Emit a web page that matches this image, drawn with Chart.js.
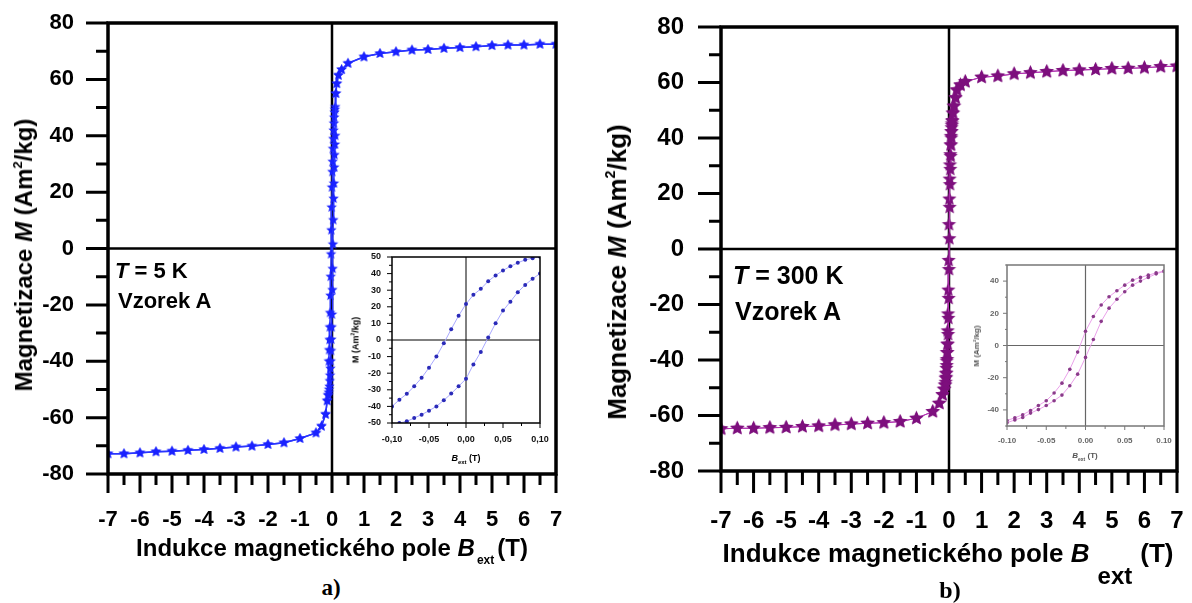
<!DOCTYPE html>
<html><head><meta charset="utf-8">
<script src="https://cdn.jsdelivr.net/npm/chart.js@4.4.0/dist/chart.umd.min.js"></script>
<style>
html,body{margin:0;padding:0;background:#fff;}
#wrap{position:relative;width:1192px;height:603px;overflow:hidden;background:#fff;}
canvas{position:absolute;}
.t{position:absolute;white-space:nowrap;font-family:'Liberation Sans',Arial,Helvetica,sans-serif;font-weight:bold;color:#000;line-height:1;transform:translate(-50%,-50%);}
.l{transform:translate(0,-50%);}
.r{transform:translate(-50%,-50%) rotate(-90deg);}
sup{font-size:0.55em;line-height:0;vertical-align:0.75em;}
.serif{font-family:'Liberation Serif','Times New Roman',serif;}
</style></head><body><div id="wrap">
<canvas id="mainA" width="590" height="540" style="left:0;top:0"></canvas>
<canvas id="mainB" width="592" height="540" style="left:600px;top:0"></canvas>
<canvas id="insetA" width="225" height="230" style="left:330px;top:245px"></canvas>
<canvas id="insetB" width="215" height="215" style="left:960px;top:255px"></canvas>

<div class="t r" style="left:24px;top:255px;font-size:24px">Magnetizace <i>M</i> (Am<sup>2</sup>/kg)</div>
<div class="t" style="left:332px;top:548px;font-size:24px">Indukce magnetického pole <i>B</i><span style="font-size:12px;position:relative;top:8px;margin-left:2px;margin-right:3px">ext</span>(T)</div>
<div class="t serif" style="left:331px;top:587px;font-size:23px">a)</div>
<div class="t l" style="left:115px;top:271px;font-size:22px"><i>T</i> = 5 K</div>
<div class="t l" style="left:118px;top:301px;font-size:22px">Vzorek A</div>

<div class="t r" style="left:617px;top:272px;font-size:26px">Magnetizace <i>M</i> (Am<sup>2</sup>/kg)</div>
<div class="t" style="left:948px;top:553px;font-size:26px">Indukce magnetického pole <i>B</i><span style="font-size:24px;position:relative;top:22px;margin-left:8px;margin-right:8px">ext</span>(T)</div>
<div class="t serif" style="left:950px;top:590px;font-size:24px">b)</div>
<div class="t l" style="left:733px;top:275px;font-size:25px"><i>T</i> = 300 K</div>
<div class="t l" style="left:735px;top:311px;font-size:25px">Vzorek A</div>

<div class="t r" style="left:356px;top:340px;font-size:9px">M (Am<sup>2</sup>/kg)</div>
<div class="t" style="left:466px;top:458px;font-size:9px"><i>B</i><span style="font-size:6px;position:relative;top:3px">ext</span> (T)</div>
<div class="t r" style="left:977px;top:346px;font-size:8px;color:#555">M (Am<sup>2</sup>/kg)</div>
<div class="t" style="left:1085px;top:456px;font-size:8px;color:#555"><i>B</i><span style="font-size:5px;position:relative;top:3px">ext</span> (T)</div>
</div>
<script>
// ---------------- DATA ----------------
// Panel a (T = 5 K), main plot
const mainA_neg_x = [-7, -6.5, -6, -5.5, -5, -4.5, -4, -3.5, -3, -2.5, -2, -1.5, -1, -0.5, -0.33, -0.2, -0.15, -0.12];
const mainA_neg_M = [-72.8, -72.8, -72.5, -72.1, -71.9, -71.6, -71.3, -70.9, -70.4, -70.1, -69.5, -68.9, -67.4, -65.4, -63, -58.8, -54, -52];
const mainA_pos_x = [0.12, 0.15, 0.2, 0.3, 0.5, 1, 1.5, 2, 2.5, 3, 3.5, 4, 4.5, 5, 5.5, 6, 6.5, 7];
const mainA_pos_M = [55, 58.5, 61.5, 63.5, 65.7, 68, 69.2, 69.8, 70.4, 70.6, 71, 71.3, 71.6, 72, 72.2, 72.2, 72.5, 72.5];
// Panel a inset (low-field hysteresis loop)
const insetA_x = [-0.10, -0.09, -0.08, -0.07, -0.06, -0.05, -0.04, -0.03, -0.02, -0.01, 0, 0.01, 0.02, 0.03, 0.04, 0.05, 0.06, 0.07, 0.08, 0.09, 0.10];
const insetA_desc_M = [-40, -36, -32.4, -27.9, -22.8, -16.7, -10, -2, 6.5, 14.6, 21.7, 27.2, 30.8, 35.4, 38.9, 41.9, 44.4, 46.5, 48.3, 49.3, 50.2];
const insetA_asc_M = [-51, -50, -49, -47, -45, -42.6, -40, -36.3, -32.3, -27.9, -23.4, -14.7, -7.2, 1.5, 10.1, 17.7, 23.1, 28.8, 33.2, 36.9, 40];

// Panel b (T = 300 K), main plot
const mainB_neg_x = [-7, -6.5, -6, -5.5, -5, -4.5, -4, -3.5, -3, -2.5, -2, -1.5, -1, -0.5, -0.3, -0.2, -0.15, -0.12];
const mainB_neg_M = [-64.8, -64.6, -64.6, -64.4, -64.3, -64, -63.8, -63.4, -63.1, -62.8, -62.6, -62.2, -61, -58.6, -55.6, -52.5, -50.5, -49];
const mainB_pos_x = [0.12, 0.15, 0.2, 0.24, 0.35, 0.5, 1, 1.5, 2, 2.5, 3, 3.5, 4, 4.5, 5, 5.5, 6, 6.5, 7];
const mainB_pos_M = [49, 51.5, 54.5, 57.3, 59.1, 60.3, 61.9, 62.3, 63.1, 63.5, 63.9, 64.3, 64.5, 64.7, 65, 65.1, 65.3, 65.7, 65.9];
// Panel b inset
const insetB_x = [-0.10, -0.09, -0.08, -0.07, -0.06, -0.05, -0.04, -0.03, -0.02, -0.01, 0, 0.01, 0.02, 0.03, 0.04, 0.05, 0.06, 0.07, 0.08, 0.09, 0.10];
const insetB_desc_M = [-46.6, -44.9, -43, -40.4, -37.3, -34.3, -29.5, -23.4, -14.8, -4.1, 8.8, 18, 25.2, 30.3, 34, 37.5, 40.6, 42.3, 43.7, 45.1, 46.3];
const insetB_asc_M = [-48, -46.2, -44.7, -42, -39.8, -37.3, -34.3, -30.8, -25, -17.8, -7.4, 3.7, 15, 23.2, 28.7, 33.4, 37.5, 40, 42.3, 44.5, 46];

// Tick values / labels
const mainX_major = [-7, -6, -5, -4, -3, -2, -1, 0, 1, 2, 3, 4, 5, 6, 7];
const mainX_minor = [-6.5, -5.5, -4.5, -3.5, -2.5, -1.5, -0.5, 0.5, 1.5, 2.5, 3.5, 4.5, 5.5, 6.5];
const mainY_major = [-80, -60, -40, -20, 0, 20, 40, 60, 80];
const mainY_minor = [-70, -50, -30, -10, 10, 30, 50, 70];
const insetX_major = [-0.10, -0.05, 0, 0.05, 0.10];
const insetX_minor = [-0.075, -0.025, 0.025, 0.075];
const insetA_xLabels = ['-0,10', '-0,05', '0,00', '0,05', '0,10'];
const insetB_xLabels = ['-0.10', '-0.05', '0.00', '0.05', '0.10'];
const insetA_yMajor = [-50, -40, -30, -20, -10, 0, 10, 20, 30, 40, 50];
const insetA_yMinor = [-45, -35, -25, -15, -5, 5, 15, 25, 35, 45];
const insetB_yMajor = [-40, -20, 0, 20, 40];
const insetB_yMinor = [-50, -30, -10, 10, 30, 50];

// ---------------- HELPERS ----------------
const FONT = "'Liberation Sans', Arial, Helvetica, sans-serif";
const pts = (xs, ys) => xs.map((x, i) => ({x: x, y: ys[i]}));
const rev = a => a.slice().reverse();

function starImage(r, fill) {
  const s = Math.ceil(r * 2 + 2);
  const c = document.createElement('canvas');
  c.width = s; c.height = s;
  const g = c.getContext('2d');
  g.beginPath();
  for (let i = 0; i < 10; i++) {
    const ang = -Math.PI / 2 + i * Math.PI / 5;
    const rr = (i % 2) ? r * 0.45 : r;
    const px = s / 2 + rr * Math.cos(ang), py = s / 2 + rr * Math.sin(ang);
    if (i) g.lineTo(px, py); else g.moveTo(px, py);
  }
  g.closePath();
  g.fillStyle = fill;
  g.fill();
  return c;
}

const decor = {
  id: 'decor',
  beforeDatasetsDraw(chart, args, o) {
    const {ctx, chartArea: a, scales: {x, y}} = chart;
    ctx.save();
    ctx.strokeStyle = o.zeroColor; ctx.lineWidth = o.zeroWidth;
    const x0 = x.getPixelForValue(0), y0 = y.getPixelForValue(0);
    ctx.beginPath();
    ctx.moveTo(x0, a.top); ctx.lineTo(x0, a.bottom);
    ctx.moveTo(a.left, y0); ctx.lineTo(a.right, y0);
    ctx.stroke();
    ctx.restore();
  },
  afterDatasetsDraw(chart, args, o) {
    const {ctx, chartArea: a, scales: {x, y}} = chart;
    ctx.save();
    ctx.strokeStyle = o.color; ctx.lineWidth = o.tickWidth; ctx.lineCap = 'butt';
    ctx.beginPath();
    o.xMajor.forEach(v => { const p = x.getPixelForValue(v); ctx.moveTo(p, a.bottom); ctx.lineTo(p, a.bottom + o.xMajorLen); });
    o.xMinor.forEach(v => { const p = x.getPixelForValue(v); ctx.moveTo(p, a.bottom); ctx.lineTo(p, a.bottom + o.xMinorLen); });
    o.yMajor.forEach(v => { const p = y.getPixelForValue(v); ctx.moveTo(a.left, p); ctx.lineTo(a.left - o.yMajorLen, p); });
    o.yMinor.forEach(v => { const p = y.getPixelForValue(v); ctx.moveTo(a.left, p); ctx.lineTo(a.left - o.yMinorLen, p); });
    ctx.stroke();
    ctx.lineWidth = o.frameWidth;
    ctx.strokeRect(a.left, a.top, a.right - a.left, a.bottom - a.top);
    ctx.restore();
  }
};

function makeChart(id, cfg) {
  const fontTick = {family: FONT, size: cfg.fontSize, weight: 'bold'};
  return new Chart(document.getElementById(id), {
    type: 'scatter',
    data: {datasets: cfg.datasets},
    options: {
      responsive: false, animation: false, maintainAspectRatio: false,
      events: [],
      layout: {padding: cfg.padding},
      plugins: {legend: {display: false}, tooltip: {enabled: false}, decor: cfg.decor},
      scales: {
        x: {
          type: 'linear', min: cfg.xMin, max: cfg.xMax,
          afterBuildTicks: s => { s.ticks = cfg.xTicks.map(v => ({value: v})); },
          afterFit: s => { s.height = cfg.xHeight; s.paddingLeft = 0; s.paddingRight = 0; },
          grid: {display: false, drawTicks: false}, border: {display: false},
          ticks: {padding: cfg.xPad, color: cfg.tickColor, font: fontTick, autoSkip: false, maxRotation: 0, minRotation: 0,
                  callback: (v, i) => cfg.xLabels[i]}
        },
        y: {
          type: 'linear', min: cfg.yMin, max: cfg.yMax,
          afterBuildTicks: s => { s.ticks = cfg.yTicks.map(v => ({value: v})); },
          afterFit: s => { s.width = cfg.yWidth; s.paddingTop = 0; s.paddingBottom = 0; },
          grid: {display: false, drawTicks: false}, border: {display: false},
          ticks: {padding: cfg.yPad, color: cfg.tickColor, font: fontTick, autoSkip: false,
                  callback: (v, i) => cfg.yLabels[i]}
        }
      }
    },
    plugins: [decor]
  });
}

const mainXLabels = mainX_major.map(String);
const mainYLabels = mainY_major.map(String);

// ---------- Panel a main ----------
const starA = starImage(5.5, '#1a22ff');
const lineA = {showLine: true, borderColor: '#2a35ff', borderWidth: 1.5, pointStyle: starA, pointRadius: 5, tension: 0};
makeChart('mainA', {
  datasets: [
    Object.assign({data: pts(mainA_neg_x.concat(insetA_x, mainA_pos_x), mainA_neg_M.concat(insetA_asc_M, mainA_pos_M))}, lineA),
    Object.assign({data: pts(rev(mainA_pos_x).concat(rev(insetA_x), rev(mainA_neg_x)), rev(mainA_pos_M).concat(rev(insetA_desc_M), rev(mainA_neg_M)))}, lineA)
  ],
  padding: {left: 0, top: 23, right: 34, bottom: 0},
  xMin: -7, xMax: 7, yMin: -80, yMax: 80,
  xTicks: mainX_major, xLabels: mainXLabels, yTicks: mainY_major, yLabels: mainYLabels,
  xHeight: 66, yWidth: 108, xPad: 33, yPad: 34, fontSize: 22, tickColor: '#000',
  decor: {color: '#000', zeroColor: '#000', zeroWidth: 2.5, frameWidth: 3.5, tickWidth: 3,
          xMajor: mainX_major, xMinor: mainX_minor, yMajor: mainY_major, yMinor: mainY_minor,
          xMajorLen: 19, xMinorLen: 11, yMajorLen: 22, yMinorLen: 12}
});

// ---------- Panel b main ----------
const starB = starImage(7.5, '#7d0f7d');
const lineB = {showLine: true, borderColor: '#b030b0', borderWidth: 1, pointStyle: starB, pointRadius: 7, tension: 0};
makeChart('mainB', {
  datasets: [
    Object.assign({data: pts(mainB_neg_x.concat(insetB_x, mainB_pos_x), mainB_neg_M.concat(insetB_asc_M, mainB_pos_M))}, lineB),
    Object.assign({data: pts(rev(mainB_pos_x).concat(rev(insetB_x), rev(mainB_neg_x)), rev(mainB_pos_M).concat(rev(insetB_desc_M), rev(mainB_neg_M)))}, lineB)
  ],
  padding: {left: 0, top: 27, right: 15, bottom: 0},
  xMin: -7, xMax: 7, yMin: -80, yMax: 80,
  xTicks: mainX_major, xLabels: mainXLabels, yTicks: mainY_major, yLabels: mainYLabels,
  xHeight: 69, yWidth: 121, xPad: 36, yPad: 37, fontSize: 24, tickColor: '#000',
  decor: {color: '#000', zeroColor: '#000', zeroWidth: 2.5, frameWidth: 3.5, tickWidth: 3,
          xMajor: mainX_major, xMinor: mainX_minor, yMajor: mainY_major, yMinor: mainY_minor,
          xMajorLen: 22, xMinorLen: 14, yMajorLen: 23, yMinorLen: 12}
});

// ---------- Panel a inset ----------
const dotA = {showLine: true, borderColor: '#a8a8ff', borderWidth: 1, pointStyle: 'circle', pointRadius: 2, pointBorderWidth: 0, pointBackgroundColor: '#2a2ab8', tension: 0};
makeChart('insetA', {
  datasets: [
    Object.assign({data: pts(insetA_x, insetA_desc_M)}, dotA),
    Object.assign({data: pts(insetA_x, insetA_asc_M)}, dotA)
  ],
  padding: {left: 0, top: 12, right: 15, bottom: 0},
  xMin: -0.1, xMax: 0.1, yMin: -50, yMax: 50,
  xTicks: insetX_major, xLabels: insetA_xLabels, yTicks: insetA_yMajor, yLabels: insetA_yMajor.map(String),
  xHeight: 52, yWidth: 62, xPad: 11, yPad: 11, fontSize: 9, tickColor: '#111',
  decor: {color: '#000', zeroColor: '#000', zeroWidth: 1, frameWidth: 1.5, tickWidth: 1,
          xMajor: insetX_major, xMinor: insetX_minor, yMajor: insetA_yMajor, yMinor: insetA_yMinor,
          xMajorLen: 5, xMinorLen: 3, yMajorLen: 5, yMinorLen: 3}
});

// ---------- Panel b inset ----------
const dotB = {showLine: true, borderColor: '#eaa0ea', borderWidth: 1, pointStyle: 'circle', pointRadius: 1.8, pointBorderWidth: 0, pointBackgroundColor: '#8a3a8a', tension: 0};
makeChart('insetB', {
  datasets: [
    Object.assign({data: pts(insetB_x, insetB_desc_M)}, dotB),
    Object.assign({data: pts(insetB_x, insetB_asc_M)}, dotB)
  ],
  padding: {left: 0, top: 10, right: 11, bottom: 0},
  xMin: -0.1, xMax: 0.1, yMin: -50, yMax: 50,
  xTicks: insetX_major, xLabels: insetB_xLabels, yTicks: insetB_yMajor, yLabels: insetB_yMajor.map(String),
  xHeight: 44, yWidth: 47, xPad: 10, yPad: 8, fontSize: 8, tickColor: '#666',
  decor: {color: '#777', zeroColor: '#666', zeroWidth: 1.2, frameWidth: 1.5, tickWidth: 1,
          xMajor: insetX_major, xMinor: insetX_minor, yMajor: insetB_yMajor, yMinor: insetB_yMinor,
          xMajorLen: 4, xMinorLen: 3, yMajorLen: 4, yMinorLen: 2}
});
</script>
</body></html>
